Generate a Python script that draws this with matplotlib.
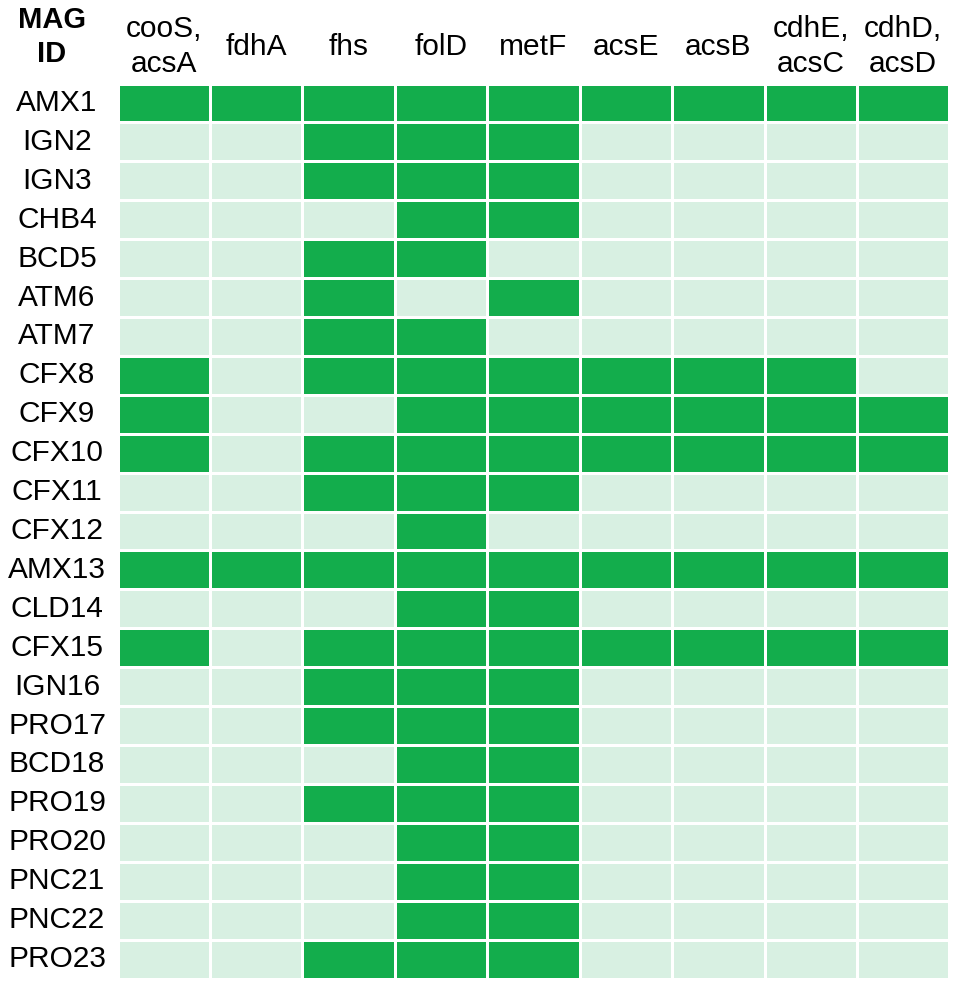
import matplotlib
matplotlib.use("Agg")
import matplotlib.pyplot as plt
from matplotlib.colors import ListedColormap
import numpy as np

plt.rcParams['font.family'] = ['Liberation Sans', 'DejaVu Sans']

genes = ["cooS,\nacsA", "fdhA", "fhs", "folD", "metF", "acsE", "acsB", "cdhE,\nacsC", "cdhD,\nacsD"]
mags = ["AMX1", "IGN2", "IGN3", "CHB4", "BCD5", "ATM6", "ATM7", "CFX8", "CFX9", "CFX10",
        "CFX11", "CFX12", "AMX13", "CLD14", "CFX15", "IGN16", "PRO17", "BCD18", "PRO19",
        "PRO20", "PNC21", "PNC22", "PRO23"]

# 1 = gene present
presence = np.array([
    [1, 1, 1, 1, 1, 1, 1, 1, 1],
    [0, 0, 1, 1, 1, 0, 0, 0, 0],
    [0, 0, 1, 1, 1, 0, 0, 0, 0],
    [0, 0, 0, 1, 1, 0, 0, 0, 0],
    [0, 0, 1, 1, 0, 0, 0, 0, 0],
    [0, 0, 1, 0, 1, 0, 0, 0, 0],
    [0, 0, 1, 1, 0, 0, 0, 0, 0],
    [1, 0, 1, 1, 1, 1, 1, 1, 0],
    [1, 0, 0, 1, 1, 1, 1, 1, 1],
    [1, 0, 1, 1, 1, 1, 1, 1, 1],
    [0, 0, 1, 1, 1, 0, 0, 0, 0],
    [0, 0, 0, 1, 0, 0, 0, 0, 0],
    [1, 1, 1, 1, 1, 1, 1, 1, 1],
    [0, 0, 0, 1, 1, 0, 0, 0, 0],
    [1, 0, 1, 1, 1, 1, 1, 1, 1],
    [0, 0, 1, 1, 1, 0, 0, 0, 0],
    [0, 0, 1, 1, 1, 0, 0, 0, 0],
    [0, 0, 0, 1, 1, 0, 0, 0, 0],
    [0, 0, 1, 1, 1, 0, 0, 0, 0],
    [0, 0, 0, 1, 1, 0, 0, 0, 0],
    [0, 0, 0, 1, 1, 0, 0, 0, 0],
    [0, 0, 0, 1, 1, 0, 0, 0, 0],
    [0, 0, 1, 1, 1, 0, 0, 0, 0],
])

W, H = 957, 986
fig = plt.figure(figsize=(W / 100, H / 100), dpi=100)
x0, x1, y0, y1 = 117.5, 949.5, 83.5, 978.5
ax = fig.add_axes([x0 / W, 1 - y1 / H, (x1 - x0) / W, (y1 - y0) / H])

cmap = ListedColormap(["#d8f0e2", "#13ad4c"])
ax.pcolormesh(presence, cmap=cmap, vmin=0, vmax=1, edgecolors="white", linewidth=2.1)
ax.set_xlim(0, len(genes))
ax.set_ylim(len(mags), 0)
ax.axis("off")

colw = (x1 - x0) / len(genes)
lab_x = (57 - x0) / colw

for j, g in enumerate(genes):
    ax.text(j + 0.5, -0.95, g, ha="center", va="center", fontsize=21.5,
            linespacing=1.32, clip_on=False)
ax.text((52 - x0) / colw, -1.2, "MAG\nID", ha="center", va="center", fontsize=21,
        fontweight="bold", linespacing=1.25, clip_on=False)
for i, m in enumerate(mags):
    ax.text(lab_x, i + 0.5, m, ha="center", va="center", fontsize=21.5, clip_on=False)

fig.savefig("out.png", dpi=100)
